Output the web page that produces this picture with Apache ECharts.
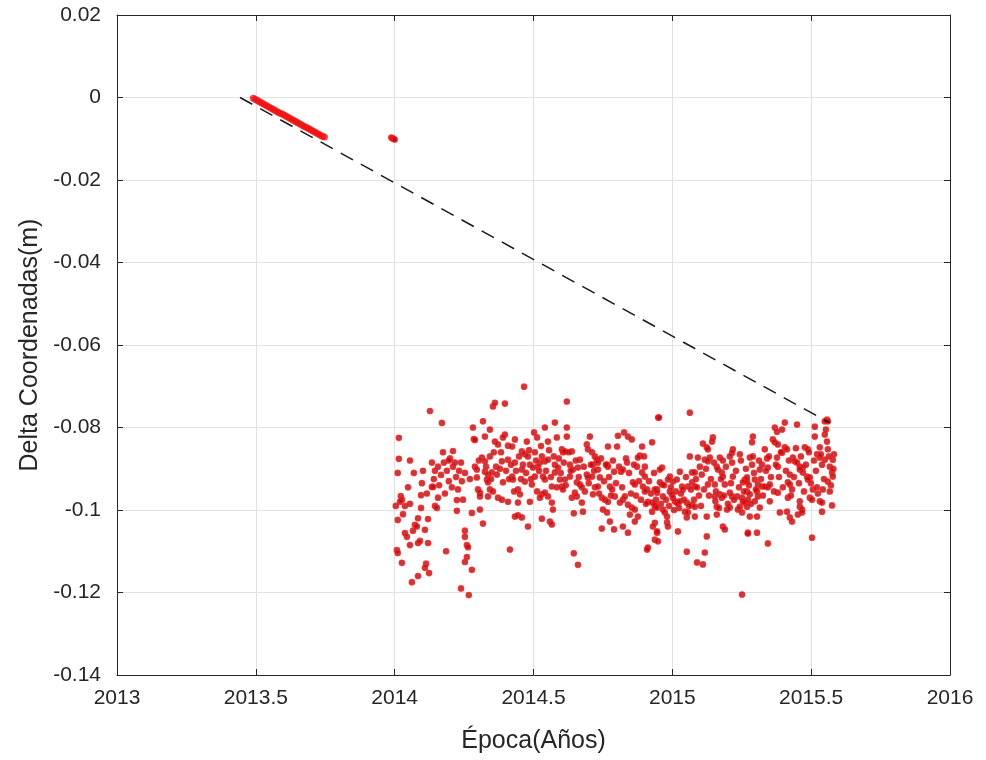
<!DOCTYPE html>
<html>
<head>
<meta charset="utf-8">
<script src="https://cdn.jsdelivr.net/npm/echarts@6/dist/echarts.min.js"></script>
<style>
  html, body { margin: 0; padding: 0; background: #fff; }
  #chartmain { width: 986px; height: 760px; }
</style>
</head>
<body>
<div id="chartmain"></div>
<script>
// eje X: epoca en anos, eje Y: delta de coordenadas en metros
var xTicks = [2013, 2013.5, 2014, 2014.5, 2015, 2015.5, 2016];
var yTicks = [0.02, 0, -0.02, -0.04, -0.06, -0.08, -0.1, -0.12, -0.14];

// tendencia (linea discontinua negra)
var trendLine = [[2013.443, 0], [2015.567, -0.0789]];

// primer tramo de observaciones (2013.5 - 2013.75)
var firstSegX = [2013.491, 2013.499, 2013.507, 2013.515, 2013.523, 2013.531, 2013.539, 2013.547, 2013.555, 2013.563,
  2013.571, 2013.579, 2013.587, 2013.595, 2013.603, 2013.611, 2013.619, 2013.627, 2013.635, 2013.643,
  2013.651, 2013.659, 2013.667, 2013.675, 2013.683, 2013.691, 2013.699, 2013.707, 2013.715, 2013.723,
  2013.731, 2013.739, 2013.747];
var firstSegY = [-0.0002, -0.0005, -0.0008, -0.0011, -0.0014, -0.0017, -0.0020, -0.0023, -0.0026, -0.0029,
  -0.0032, -0.0035, -0.0038, -0.0040, -0.0043, -0.0046, -0.0049, -0.0052, -0.0055, -0.0058,
  -0.0061, -0.0064, -0.0067, -0.0070, -0.0073, -0.0076, -0.0079, -0.0082, -0.0085, -0.0088,
  -0.0091, -0.0094, -0.0096];

// pequeno grupo cerca de 2014.0
var smallCluster = [[2013.988, -0.0097], [2013.992, -0.0099], [2013.996, -0.0100], [2014.000, -0.0102]];

// observaciones 2014.0 - 2015.6
var obsPts = [
  [2014.127,-0.0760],[2014.170,-0.0789],[2014.282,-0.0800],[2014.015,-0.0825],[2014.285,-0.0828],[2014.210,-0.0857],
  [2014.174,-0.0860],[2014.015,-0.0876],[2014.055,-0.0880],[2014.011,-0.0910],[2014.069,-0.0910],
  [2014.134,-0.0885],[2014.145,-0.0905],[2014.156,-0.0895],[2014.167,-0.0915],[2014.177,-0.0885],[2014.188,-0.0905],
  [2014.199,-0.0875],[2014.210,-0.0895],[2014.221,-0.0920],[2014.232,-0.0905],[2014.242,-0.0930],[2014.253,-0.0910],
  [2014.098,-0.0935],[2014.134,-0.0944],[2014.138,-0.0944],[2014.095,-0.0964],[2014.022,-0.0966],[2014.026,-0.0975],
  [2014.156,-0.0970],[2014.224,-0.0976],[2014.019,-0.0980],[2014.037,-0.0990],[2014.055,-0.0985],[2014.145,-0.0990],
  [2014.152,-0.0995],[2014.095,-0.0995],[2014.224,-0.1002],[2014.278,-0.1007],[2014.011,-0.1024],[2014.084,-0.1020],
  [2014.120,-0.1022],[2014.073,-0.1036],[2014.080,-0.1040],[2014.109,-0.1048],[2014.037,-0.1056],[2014.044,-0.1065],
  [2014.253,-0.1050],[2014.253,-0.1065],[2014.055,-0.1085],[2014.084,-0.1080],[2014.120,-0.1080],[2014.260,-0.1085],
  [2014.264,-0.1090],[2014.008,-0.1097],[2014.011,-0.1104],[2014.185,-0.1100],[2014.260,-0.1114],[2014.253,-0.1126],
  [2014.026,-0.1128],[2014.113,-0.1130],[2014.109,-0.1140],[2014.278,-0.1145],[2014.124,-0.1153],[2014.084,-0.1160],
  [2014.062,-0.1175],[2014.239,-0.1190],[2014.267,-0.1206],
  [2014.466,-0.0701],[2014.354,-0.0749],[2014.361,-0.0740],[2014.397,-0.0742],[2014.620,-0.0737],[2014.318,-0.0785],
  [2014.343,-0.0805],[2014.289,-0.0830],[2014.577,-0.0788],[2014.541,-0.0800],[2014.620,-0.0800],[2014.502,-0.0812],
  [2014.513,-0.0824],[2014.397,-0.0817],[2014.390,-0.0824],[2014.325,-0.0822],[2014.433,-0.0829],[2014.476,-0.0834],
  [2014.584,-0.0824],[2014.620,-0.0822],[2014.361,-0.0834],[2014.372,-0.0841],[2014.552,-0.0834],[2014.408,-0.0844],
  [2014.423,-0.0846],[2014.458,-0.0858],[2014.469,-0.0865],[2014.480,-0.0870],[2014.602,-0.0853],[2014.606,-0.0860],
  [2014.613,-0.0858],[2014.505,-0.0860],[2014.530,-0.0870],[2014.541,-0.0882],[2014.523,-0.0885],[2014.552,-0.0878],
  [2014.314,-0.0873],[2014.325,-0.0882],[2014.343,-0.0870],[2014.386,-0.0882],[2014.408,-0.0878],[2014.433,-0.0885],
  [2014.487,-0.0890],[2014.498,-0.0897],[2014.516,-0.0895],[2014.577,-0.0890],[2014.588,-0.0897],[2014.289,-0.0895],
  [2014.296,-0.0902],[2014.325,-0.0907],[2014.336,-0.0914],[2014.350,-0.0909],[2014.368,-0.0914],[2014.458,-0.0902],
  [2014.505,-0.0919],[2014.534,-0.0919],[2014.541,-0.0926],[2014.577,-0.0909],[2014.595,-0.0926],[2014.613,-0.0926],
  [2014.296,-0.0921],[2014.332,-0.0926],[2014.336,-0.0933],[2014.423,-0.0919],[2014.426,-0.0926],[2014.390,-0.0933],
  [2014.469,-0.0931],[2014.494,-0.0938],[2014.300,-0.0950],[2014.307,-0.0958],[2014.343,-0.0950],[2014.354,-0.0955],
  [2014.444,-0.0950],[2014.451,-0.0962],[2014.513,-0.0955],[2014.566,-0.0943],[2014.584,-0.0945],[2014.602,-0.0943],
  [2014.606,-0.0950],[2014.530,-0.0962],[2014.541,-0.0958],[2014.552,-0.0967],[2014.307,-0.0967],[2014.336,-0.0967],
  [2014.372,-0.0970],[2014.386,-0.0975],[2014.408,-0.0980],[2014.444,-0.0982],[2014.487,-0.0980],[2014.523,-0.0970],
  [2014.566,-0.0982],[2014.570,-0.0999],[2014.307,-0.0999],[2014.433,-0.1016],[2014.444,-0.1013],[2014.458,-0.1018],
  [2014.530,-0.1021],[2014.559,-0.1028],[2014.566,-0.1035],[2014.480,-0.1040],[2014.318,-0.1033],[2014.415,-0.1096],
  [2014.949,-0.0776],[2014.703,-0.0822],[2014.804,-0.0820],[2014.826,-0.0812],[2014.840,-0.0822],[2014.854,-0.0829],
  [2014.927,-0.0836],[2014.891,-0.0846],[2014.692,-0.0841],[2014.696,-0.0853],[2014.711,-0.0860],[2014.768,-0.0846],
  [2014.801,-0.0846],[2014.638,-0.0858],[2014.721,-0.0870],[2014.728,-0.0878],[2014.732,-0.0885],[2014.714,-0.0890],
  [2014.883,-0.0868],[2014.876,-0.0873],[2014.667,-0.0878],[2014.837,-0.0885],[2014.765,-0.0890],[2014.768,-0.0895],
  [2014.873,-0.0895],[2014.901,-0.0895],[2014.631,-0.0890],[2014.642,-0.0902],[2014.660,-0.0897],[2014.732,-0.0902],
  [2014.790,-0.0907],[2014.815,-0.0907],[2014.822,-0.0902],[2014.891,-0.0909],[2014.901,-0.0919],[2014.692,-0.0914],
  [2014.696,-0.0921],[2014.711,-0.0919],[2014.631,-0.0919],[2014.739,-0.0921],[2014.656,-0.0933],[2014.667,-0.0938],
  [2014.674,-0.0945],[2014.775,-0.0943],[2014.783,-0.0950],[2014.858,-0.0933],[2014.865,-0.0938],[2014.894,-0.0943],
  [2014.909,-0.0950],[2014.901,-0.0955],[2014.721,-0.0945],[2014.732,-0.0943],[2014.945,-0.0950],[2014.649,-0.0958],
  [2014.656,-0.0967],[2014.638,-0.0970],[2014.714,-0.0962],[2014.746,-0.0970],[2014.757,-0.0975],[2014.768,-0.0980],
  [2014.793,-0.0967],[2014.811,-0.0982],[2014.822,-0.0975],[2014.829,-0.0967],[2014.840,-0.0987],[2014.854,-0.0994],
  [2014.865,-0.0999],[2014.912,-0.0980],[2014.927,-0.0982],[2014.937,-0.0992],[2014.674,-0.0982],[2014.678,-0.1004],
  [2014.645,-0.1008],[2014.750,-0.0999],[2014.765,-0.1006],[2014.847,-0.1011],[2014.865,-0.1028],[2014.876,-0.1016],
  [2014.927,-0.1004],[2014.937,-0.1031],[2014.930,-0.1040],[2014.945,-0.1055],[2014.775,-0.1028],[2014.746,-0.1045],
  [2014.790,-0.1047],[2014.822,-0.1040],[2014.840,-0.1055],[2014.937,-0.1072],[2014.912,-0.1091],[2014.909,-0.1096],
  [2014.645,-0.1105],[2014.660,-0.1133],
  [2015.063,-0.0764],[2014.952,-0.0776],[2015.146,-0.0824],[2015.143,-0.0834],[2015.110,-0.0839],[2015.124,-0.0848],
  [2015.128,-0.0853],[2015.218,-0.0853],[2015.215,-0.0861],[2015.207,-0.0870],[2015.243,-0.0865],[2015.063,-0.0870],
  [2015.092,-0.0873],[2015.117,-0.0878],[2015.135,-0.0873],[2015.128,-0.0882],[2015.171,-0.0873],[2015.182,-0.0880],
  [2015.215,-0.0885],[2015.099,-0.0895],[2014.963,-0.0897],[2014.955,-0.0902],[2015.160,-0.0895],[2015.164,-0.0902],
  [2015.178,-0.0909],[2015.182,-0.0919],[2015.027,-0.0907],[2015.071,-0.0909],[2015.081,-0.0909],[2015.106,-0.0914],
  [2014.991,-0.0919],[2014.984,-0.0926],[2015.002,-0.0931],[2015.016,-0.0926],[2015.218,-0.0919],[2015.261,-0.0926],
  [2015.254,-0.0933],[2015.269,-0.0931],[2014.955,-0.0933],[2014.963,-0.0938],[2015.035,-0.0943],[2015.038,-0.0950],
  [2015.056,-0.0943],[2015.071,-0.0933],[2015.081,-0.0943],[2015.089,-0.0945],[2015.128,-0.0938],[2015.153,-0.0938],
  [2015.189,-0.0938],[2014.937,-0.0950],[2014.945,-0.0958],[2014.966,-0.0967],[2014.991,-0.0955],[2014.998,-0.0962],
  [2015.002,-0.0970],[2015.171,-0.0962],[2015.178,-0.0970],[2015.207,-0.0958],[2015.215,-0.0967],[2015.233,-0.0967],
  [2015.251,-0.0970],[2015.254,-0.0979],[2015.261,-0.0982],[2015.009,-0.0979],[2015.016,-0.0982],[2015.020,-0.0984],
  [2015.027,-0.0979],[2015.052,-0.0982],[2015.071,-0.0987],[2015.081,-0.0992],[2015.153,-0.0967],[2015.155,-0.0979],
  [2015.160,-0.0992],[2014.937,-0.0987],[2014.945,-0.0994],[2014.966,-0.0999],[2014.973,-0.1006],[2014.981,-0.1016],
  [2015.197,-0.0999],[2015.207,-0.0994],[2015.236,-0.0999],[2015.243,-0.0992],[2015.251,-0.1006],[2015.045,-0.1004],
  [2015.056,-0.1006],[2015.052,-0.1018],[2015.081,-0.1016],[2015.124,-0.1016],[2015.160,-0.1011],[2014.981,-0.1030],
  [2014.984,-0.1040],[2014.945,-0.1052],[2014.948,-0.1076],[2015.182,-0.1040],[2015.189,-0.1047],[2015.020,-0.1052],
  [2015.124,-0.1064],[2015.272,-0.1055],[2015.052,-0.1101],[2015.117,-0.1103],[2015.089,-0.1127],[2015.110,-0.1132],
  [2015.251,-0.1205],
  [2015.557,-0.0781],[2015.560,-0.0785],[2015.549,-0.0785],[2015.405,-0.0788],[2015.449,-0.0793],[2015.369,-0.0800],
  [2015.377,-0.0810],[2015.395,-0.0805],[2015.513,-0.0798],[2015.290,-0.0822],[2015.287,-0.0836],[2015.513,-0.0822],
  [2015.549,-0.0817],[2015.557,-0.0834],[2015.362,-0.0829],[2015.369,-0.0836],[2015.380,-0.0841],[2015.405,-0.0848],
  [2015.413,-0.0853],[2015.395,-0.0861],[2015.333,-0.0853],[2015.477,-0.0848],[2015.488,-0.0853],[2015.531,-0.0848],
  [2015.560,-0.0853],[2015.279,-0.0873],[2015.290,-0.0870],[2015.341,-0.0875],[2015.377,-0.0873],[2015.434,-0.0873],
  [2015.441,-0.0882],[2015.449,-0.0885],[2015.521,-0.0865],[2015.531,-0.0873],[2015.549,-0.0878],[2015.578,-0.0878],
  [2015.287,-0.0890],[2015.323,-0.0890],[2015.315,-0.0902],[2015.344,-0.0897],[2015.380,-0.0895],[2015.459,-0.0895],
  [2015.470,-0.0897],[2015.539,-0.0890],[2015.567,-0.0895],[2015.459,-0.0902],[2015.470,-0.0909],[2015.485,-0.0919],
  [2015.495,-0.0921],[2015.488,-0.0926],[2015.423,-0.0914],[2015.575,-0.0909],[2015.578,-0.0919],[2015.269,-0.0921],
  [2015.297,-0.0926],[2015.308,-0.0938],[2015.323,-0.0943],[2015.333,-0.0943],[2015.344,-0.0945],[2015.351,-0.0938],
  [2015.416,-0.0933],[2015.423,-0.0938],[2015.560,-0.0931],[2015.269,-0.0955],[2015.279,-0.0962],[2015.305,-0.0955],
  [2015.308,-0.0967],[2015.380,-0.0958],[2015.431,-0.0950],[2015.506,-0.0950],[2015.521,-0.0945],[2015.542,-0.0950],
  [2015.567,-0.0955],[2015.272,-0.0975],[2015.297,-0.0979],[2015.351,-0.0979],[2015.416,-0.0970],[2015.459,-0.0979],
  [2015.495,-0.0970],[2015.503,-0.0975],[2015.531,-0.0979],[2015.539,-0.0982],[2015.269,-0.0992],[2015.315,-0.0994],
  [2015.459,-0.0992],[2015.467,-0.0999],[2015.539,-0.1004],[2015.575,-0.0989],[2015.279,-0.1016],[2015.305,-0.1016],
  [2015.387,-0.1006],[2015.413,-0.1004],[2015.423,-0.1018],[2015.431,-0.1028],[2015.452,-0.1011],[2015.467,-0.1006],
  [2015.272,-0.1057],[2015.305,-0.1055],[2015.344,-0.1081],[2015.503,-0.1067]
];

// puntos adicionales en las zonas mas densas
var obsPts2 = [
  [2014.004,-0.0990],[2014.030,-0.1010],[2014.048,-0.0945],[2014.066,-0.1050],[2014.091,-0.1075],[2014.102,-0.0905],
  [2014.116,-0.0960],[2014.141,-0.0925],[2014.160,-0.0940],[2014.181,-0.0960],[2014.195,-0.0930],[2014.206,-0.0945],
  [2014.228,-0.0950],[2014.246,-0.0975],[2014.271,-0.0925],[2014.195,-0.0880],[2014.217,-0.0885],[2014.239,-0.0885],
  [2014.303,-0.0880],[2014.329,-0.0895],[2014.347,-0.0925],[2014.357,-0.0860],[2014.365,-0.0895],[2014.379,-0.0900],
  [2014.383,-0.0860],[2014.401,-0.0905],[2014.412,-0.0925],[2014.419,-0.0890],[2014.430,-0.0955],[2014.437,-0.0905],
  [2014.448,-0.0870],[2014.455,-0.0925],[2014.462,-0.0890],[2014.473,-0.0910],[2014.484,-0.0855],[2014.491,-0.0925],
  [2014.509,-0.0880],[2014.520,-0.0905],[2014.527,-0.0845],[2014.545,-0.0905],[2014.556,-0.0855],[2014.563,-0.0920],
  [2014.573,-0.0870],[2014.591,-0.0875],[2014.598,-0.0910],[2014.609,-0.0885],[2014.616,-0.0940],[2014.627,-0.0860],
  [2014.634,-0.0905],[2014.652,-0.0880],[2014.663,-0.0920],[2014.681,-0.0895],[2014.685,-0.0955],
  [2014.699,-0.0935],[2014.707,-0.0890],[2014.718,-0.0905],[2014.736,-0.0960],[2014.743,-0.0875],[2014.754,-0.0930],
  [2014.761,-0.0890],[2014.772,-0.0920],[2014.779,-0.0965],[2014.786,-0.0880],[2014.797,-0.0935],[2014.808,-0.0895],
  [2014.819,-0.0945],[2014.833,-0.0875],[2014.844,-0.0910],[2014.851,-0.0960],[2014.862,-0.0890],[2014.869,-0.0965],
  [2014.880,-0.0930],[2014.887,-0.0975],[2014.898,-0.0870],[2014.905,-0.0985],[2014.916,-0.0930],[2014.923,-0.0960],
  [2014.934,-0.0910],[2014.941,-0.0975],[2014.959,-0.0985],[2014.970,-0.0940],[2014.977,-0.0975],[2014.988,-0.0990],
  [2014.995,-0.0945],
  [2015.006,-0.1000],[2015.013,-0.0955],[2015.024,-0.0995],[2015.031,-0.0960],[2015.042,-0.0975],[2015.049,-0.0920],
  [2015.060,-0.0990],[2015.067,-0.0950],[2015.078,-0.0975],[2015.085,-0.0925],[2015.096,-0.0965],[2015.103,-0.0990],
  [2015.114,-0.0950],[2015.121,-0.0900],[2015.132,-0.0965],[2015.139,-0.0925],[2015.150,-0.0885],[2015.157,-0.0955],
  [2015.168,-0.0995],[2015.175,-0.0925],[2015.186,-0.0965],[2015.193,-0.0895],[2015.200,-0.0985],[2015.211,-0.0935],
  [2015.222,-0.0975],[2015.229,-0.0905],[2015.240,-0.0945],[2015.247,-0.0880],[2015.258,-0.0955],[2015.265,-0.0900],
  [2015.276,-0.0940],[2015.283,-0.0985],
  [2015.294,-0.0910],[2015.301,-0.0950],[2015.312,-0.0880],[2015.319,-0.0925],[2015.326,-0.0965],[2015.337,-0.0905],
  [2015.348,-0.0870],[2015.355,-0.0920],[2015.366,-0.0955],[2015.373,-0.0890],[2015.384,-0.0920],[2015.391,-0.0860],
  [2015.398,-0.0945],[2015.409,-0.0905],[2015.420,-0.0880],[2015.427,-0.0965],[2015.438,-0.0920],[2015.445,-0.0850],
  [2015.456,-0.0935],[2015.463,-0.0870],[2015.474,-0.0955],[2015.481,-0.0890],[2015.492,-0.0860],[2015.499,-0.0935],
  [2015.510,-0.0880],[2015.517,-0.0905],[2015.524,-0.0960],[2015.535,-0.0865],[2015.546,-0.0925],[2015.553,-0.0805],
  [2015.564,-0.0870],[2015.571,-0.0940],[2015.580,-0.0900],[2015.582,-0.0865]
];

var firstSeg = firstSegX.map(function (x, i) { return [x, firstSegY[i]]; });
var redPts = smallCluster.concat(obsPts, obsPts2);

var txtColor = '#262626';
var fontName = '"Liberation Sans", Arial, sans-serif';

window.onload = function () {
  var myChart = echarts.init(document.getElementById('chartmain'));

  var tickStyle = { show: true, inside: true, length: 6, lineStyle: { color: txtColor } };
  var lineStyle = { show: true, onZero: false, lineStyle: { color: txtColor, width: 1 } };

  var option = {
    backgroundColor: '#ffffff',
    animation: false,
    grid: { left: 117, right: 36, top: 15, bottom: 85 },
    xAxis: [
      {
        type: 'value', min: 2013, max: 2016, interval: 0.5,
        name: 'Época(Años)', nameLocation: 'middle', nameGap: 54,
        nameTextStyle: { color: txtColor, fontSize: 25, fontFamily: fontName },
        axisLine: lineStyle,
        axisTick: tickStyle,
        axisLabel: { color: txtColor, fontSize: 21, fontFamily: fontName, margin: 13,
          formatter: function (v) { return String(+v.toFixed(1)); } },
        splitLine: { show: true, lineStyle: { color: '#e2e2e2', width: 1 } }
      },
      {
        type: 'value', position: 'top', min: 2013, max: 2016, interval: 0.5,
        axisLine: lineStyle, axisTick: tickStyle,
        axisLabel: { show: false }, splitLine: { show: false }
      }
    ],
    yAxis: [
      {
        type: 'value', min: -0.14, max: 0.02, interval: 0.02,
        name: 'Delta Coordenadas(m)', nameLocation: 'middle', nameGap: 74,
        nameTextStyle: { color: txtColor, fontSize: 25, fontFamily: fontName },
        axisLine: lineStyle,
        axisTick: tickStyle,
        axisLabel: { color: txtColor, fontSize: 21, fontFamily: fontName, margin: 16,
          formatter: function (v) { return String(+v.toFixed(2)); } },
        splitLine: { show: true, lineStyle: { color: '#e2e2e2', width: 1 } }
      },
      {
        type: 'value', position: 'right', min: -0.14, max: 0.02, interval: 0.02,
        axisLine: lineStyle, axisTick: tickStyle,
        axisLabel: { show: false }, splitLine: { show: false }
      }
    ],
    series: [
      {
        name: 'primer tramo',
        type: 'scatter',
        data: firstSeg,
        symbol: 'circle',
        symbolSize: 7,
        itemStyle: { color: '#f01010' },
        z: 2
      },
      {
        name: 'observaciones',
        type: 'scatter',
        data: redPts,
        symbol: 'circle',
        symbolSize: 5.5,
        itemStyle: { color: '#a81016', borderColor: '#ff1a1a', borderWidth: 1.2 },
        z: 2
      },
      {
        name: 'tendencia',
        type: 'line',
        data: trendLine,
        symbol: 'none',
        lineStyle: { color: '#1a1a1a', width: 1.5, type: [14, 9] },
        z: 3
      }
    ]
  };

  myChart.setOption(option);
};
</script>
</body>
</html>
